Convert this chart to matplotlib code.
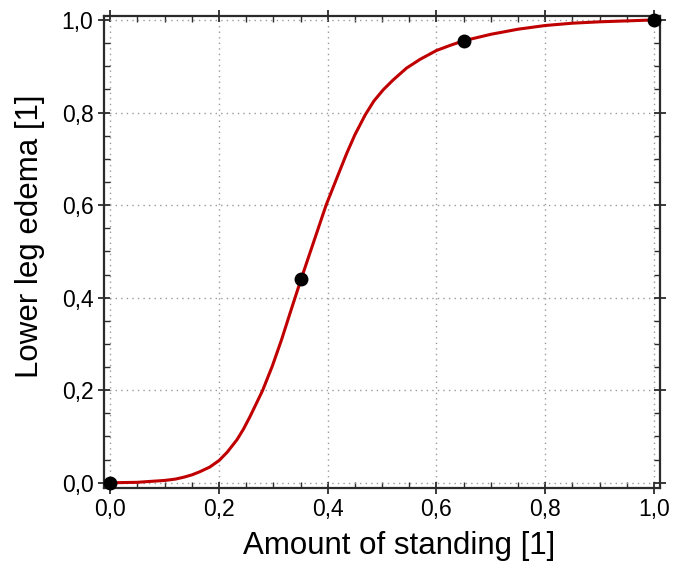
import matplotlib
matplotlib.use('Agg')
import matplotlib.pyplot as plt
from matplotlib.ticker import MultipleLocator, FuncFormatter

# ── Data ──────────────────────────────────────────────────────────────────
curve_x = [0.000, 0.050, 0.074, 0.100, 0.120, 0.135, 0.150, 0.165, 0.183,
           0.200, 0.215, 0.233, 0.245, 0.257, 0.280, 0.298, 0.315, 0.333,
           0.351, 0.374, 0.397, 0.420, 0.435, 0.450, 0.469, 0.485, 0.502,
           0.520, 0.545, 0.570, 0.600, 0.625, 0.650, 0.700, 0.750, 0.800,
           0.850, 0.900, 0.950, 1.000]
curve_y = [0.000, 0.001, 0.003, 0.005, 0.008, 0.012, 0.017, 0.024, 0.034,
           0.048, 0.066, 0.093, 0.116, 0.143, 0.199, 0.252, 0.309, 0.375,
           0.440, 0.520, 0.600, 0.668, 0.712, 0.752, 0.795, 0.825, 0.849,
           0.870, 0.896, 0.915, 0.934, 0.945, 0.955, 0.969, 0.980, 0.988,
           0.993, 0.996, 0.998, 1.000]
pts_x = [0.0, 0.35, 0.65, 1.0]
pts_y = [0.0, 0.44, 0.955, 1.0]

C_LINE = "#c00000"
C_GRID = "#9a9a9a"
C_AX   = "#2b2b2b"

plt.rcParams.update({
    "font.family": ["Liberation Sans", "DejaVu Sans"],
    "axes.edgecolor": C_AX,
    "axes.linewidth": 1.6,
})

fig = plt.figure(figsize=(6.74, 5.64), dpi=100)
ax = fig.add_axes([0.154, 0.135, 0.825, 0.837])

ax.plot(curve_x, curve_y, color=C_LINE, lw=2.2, zorder=3,
        solid_joinstyle='round', solid_capstyle='round')
ax.plot(pts_x, pts_y, 'o', color='black', ms=9, zorder=4, clip_on=False)

ax.set_xlim(-0.012, 1.011)
ax.set_ylim(-0.011, 1.009)

comma = FuncFormatter(lambda v, p: f"{v:.1f}".replace('.', ','))
for a in (ax.xaxis, ax.yaxis):
    a.set_major_locator(MultipleLocator(0.2))
    a.set_minor_locator(MultipleLocator(0.05))
    a.set_major_formatter(comma)

ax.tick_params(which='major', direction='inout', length=9, width=1.3,
               top=True, right=True, labelsize=16.5, color=C_AX, pad=3)
ax.tick_params(which='minor', direction='in', length=4, width=1.0,
               top=True, right=True, color=C_AX)

ax.grid(True, which='major', color=C_GRID, ls=(0, (1, 3)), lw=1.0)

ax.set_xlabel("Amount of standing [1]", fontsize=22.5)
ax.set_ylabel("Lower leg edema [1]", fontsize=22.5)
ax.xaxis.set_label_coords(0.532, -0.092)
ax.yaxis.set_label_coords(-0.106, 0.532)

fig.savefig("out.png", dpi=100, facecolor='white')
